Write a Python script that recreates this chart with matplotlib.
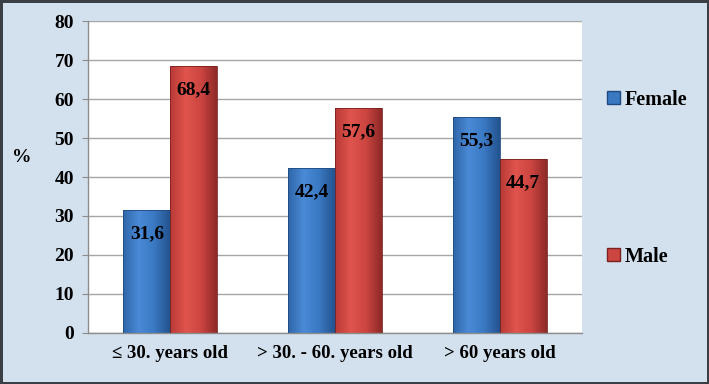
import numpy as np
import matplotlib
matplotlib.use("Agg")
import matplotlib.pyplot as plt
from matplotlib.colors import LinearSegmentedColormap
from matplotlib.patches import Patch

categories = ["≤ 30. years old", "> 30. - 60. years old", "> 60 years old"]
female = [31.6, 42.4, 55.3]
male = [68.4, 57.6, 44.7]
yticks = [0, 10, 20, 30, 40, 50, 60, 70, 80]

plt.rcParams["font.family"] = ["Liberation Serif", "DejaVu Serif"]
plt.rcParams["font.weight"] = "bold"

bg = "#d3e1ee"
fig = plt.figure(figsize=(7.09, 3.84), dpi=100, facecolor=bg)
fig.patch.set_edgecolor("#3a3f46")
fig.patch.set_linewidth(2.5)
ax = fig.add_axes([0.124, 0.133, 0.697, 0.812])
ax.set_facecolor("white")

x = np.arange(len(categories))
w = 0.285
blue_cmap = LinearSegmentedColormap.from_list("b", ["#2f66a8", "#4a8ad6", "#3a78c2", "#24548f"])
red_cmap = LinearSegmentedColormap.from_list("r", ["#b83a36", "#e0544d", "#cc4541", "#8e2a28"])

def draw(xs, vals, cmap, edge):
    bars = ax.bar(xs, vals, w, color="none", edgecolor=edge, linewidth=0.6, zorder=3)
    grad = np.linspace(0, 1, 64).reshape(1, -1)
    for b in bars:
        x0, y0 = b.get_x(), b.get_y()
        im = ax.imshow(grad, cmap=cmap, aspect="auto", zorder=2.5,
                       extent=(x0, x0 + b.get_width(), y0, y0 + b.get_height()))
        im.set_clip_path(b)
        ax.annotate(f"{b.get_height():.1f}".replace(".", ","),
                    (x0 + b.get_width() / 2, b.get_height()),
                    xytext=(0, -17), textcoords="offset points",
                    ha="center", va="center", fontsize=14, fontweight="bold",
                    color="black", zorder=4)
    return bars

draw(x - w / 2, female, blue_cmap, "#1f4a80")
draw(x + w / 2, male, red_cmap, "#7a2220")

ax.set_xlim(-0.5, len(categories) - 0.5)
ax.set_ylim(0, 80)
ax.set_yticks(yticks)
ax.yaxis.grid(True, color="#a6a6a6", linewidth=1.0, zorder=0)
ax.set_axisbelow(True)
ax.set_xticks(x)
ax.set_xticklabels(categories, fontsize=13.5, fontweight="bold")
ax.tick_params(axis="y", labelsize=14, length=4, color="#8c8c8c", pad=6)
ax.tick_params(axis="x", length=0, pad=9)
for s in ["top", "right"]:
    ax.spines[s].set_visible(False)
for s in ["left", "bottom"]:
    ax.spines[s].set_color("#8c8c8c")
    ax.spines[s].set_linewidth(1.0)
for lbl in ax.get_yticklabels():
    lbl.set_fontweight("bold")

fig.text(0.03, 0.59, "%", fontsize=14, fontweight="bold", ha="center", va="center")

handles = [Patch(facecolor="#3a78c2", edgecolor="#1f4a80", label="Female"),
           Patch(facecolor="#cc4541", edgecolor="#7a2220", label="Male")]
fig.legend(handles=handles, loc="center left", bbox_to_anchor=(0.83, 0.536),
           frameon=False, labelspacing=6.8,
           handlelength=0.65, handleheight=0.65, handletextpad=0.25,
           prop={"weight": "bold", "size": 14.5})

fig.savefig("out.png", dpi=100, facecolor=bg, edgecolor=fig.patch.get_edgecolor())
